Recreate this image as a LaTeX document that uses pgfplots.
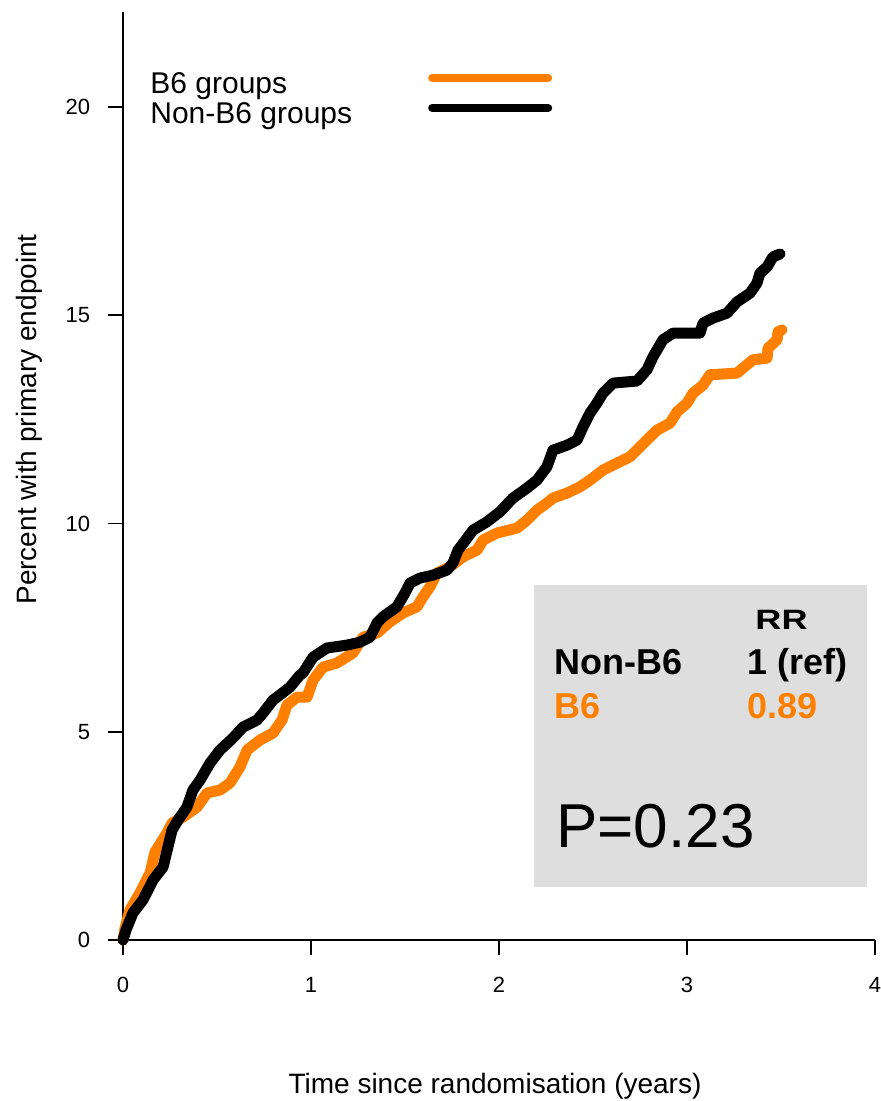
\documentclass[border=0pt]{standalone}
\usepackage{fontspec}
\setmainfont{Liberation Sans}
\usepackage{pgfplots}
\pgfplotsset{compat=1.18}
\definecolor{korange}{RGB}{255,128,0}
\definecolor{boxgray}{RGB}{222,222,222}
\begin{document}
\begin{tikzpicture}
\useasboundingbox (0,0) rectangle (440pt,550.5pt);
\begin{axis}[
  at={(61.5pt,80.5pt)}, anchor=south west,
  scale only axis, width=376pt, height=464pt,
  xmin=0, xmax=4, ymin=0, ymax=22.28,
  axis lines=left, axis line style={-, line width=0.8pt},
  xtick={0,1,2,3,4}, ytick={0,5,10,15,20},
  tick align=outside, major tick length=7.5pt,
  tick style={line width=0.8pt, black},
  /pgf/number format/assume math mode=true,
  ticklabel style={font=\fontsize{11}{13}\selectfont},
  xticklabel style={anchor=north, inner sep=0pt, yshift=-11pt},
  yticklabel style={anchor=east, inner sep=0pt, xshift=-8.75pt},
  label style={font=\fontsize{14}{17}\selectfont},
  xlabel={Time since randomisation (years)},
  ylabel={Percent with primary endpoint},
  xlabel style={at={(axis description cs:0.4947,-0.1649)}, anchor=base},
  ylabel style={at={(axis description cs:-0.11436,0.561)}, anchor=base},
  clip=false,
  legend plot pos=right,
  legend cell align=left,
  legend style={at={(axis description cs:0.0359,0.9368)}, anchor=north west,
    draw=none, fill=none, inner sep=0pt, row sep=0pt, column sep=38pt,
    font=\fontsize{15}{18}\selectfont,
    nodes={inner sep=0pt, text height=11pt, text depth=4pt}},
  legend image code/.code={\draw[#1, line width=4pt, line cap=round] (0pt,4.1pt) -- (58pt,4.1pt);},
]
\fill[boxgray] (axis cs:2.186,1.273) rectangle (axis cs:3.957,8.523);
\node[anchor=base west, inner sep=0pt] at (axis cs:3.362,7.443)
  {\bfseries\fontsize{14}{16}\selectfont\scalebox{1.29}[1]{RR}};
\node[anchor=base west, inner sep=0pt, font=\bfseries\fontsize{18}{20}\selectfont] at (axis cs:2.293,6.363) {Non-B6};
\node[anchor=base west, inner sep=0pt, font=\bfseries\fontsize{18}{20}\selectfont] at (axis cs:3.319,6.363) {1 (ref)};
\node[anchor=base west, inner sep=0pt, font=\bfseries\fontsize{18}{20}\selectfont, text=korange] at (axis cs:2.293,5.306) {B6};
\node[anchor=base west, inner sep=0pt, font=\bfseries\fontsize{18}{20}\selectfont, text=korange] at (axis cs:3.319,5.306) {0.89};
\node[anchor=base west, inner sep=0pt, font=\fontsize{31}{36}\selectfont] at (axis cs:2.303,2.209) {P=0.23};

\addplot[korange, line width=5.5pt, line join=round, line cap=round] coordinates {
(0,0) (0.011,0.29) (0.037,0.72) (0.090,1.13) (0.144,1.61) (0.170,2.11)
(0.234,2.57) (0.261,2.81) (0.319,2.95) (0.394,3.19) (0.447,3.53) (0.516,3.60)
(0.569,3.77) (0.622,4.15) (0.660,4.56) (0.729,4.80) (0.798,4.97) (0.846,5.28)
(0.872,5.64) (0.926,5.83) (0.979,5.83) (1.011,6.24) (1.064,6.55) (1.138,6.65)
(1.223,6.89) (1.277,7.27) (1.351,7.37) (1.420,7.64) (1.489,7.85) (1.564,8.00)
(1.596,8.24) (1.633,8.48) (1.670,8.81) (1.739,8.96) (1.809,9.20) (1.883,9.36)
(1.915,9.60) (1.989,9.77) (2.096,9.89) (2.149,10.08) (2.202,10.32) (2.255,10.49)
(2.287,10.61) (2.362,10.73) (2.431,10.88) (2.484,11.04) (2.553,11.28) (2.628,11.45)
(2.697,11.60) (2.750,11.84) (2.840,12.24) (2.910,12.41) (2.947,12.68) (3.000,12.89)
(3.032,13.13) (3.085,13.32) (3.122,13.57) (3.266,13.61) (3.319,13.81) (3.351,13.93)
(3.426,13.97) (3.431,14.21) (3.479,14.41) (3.484,14.60) (3.505,14.65)
};
\addlegendentry{B6 groups}
\addplot[black, line width=5.5pt, line join=round, line cap=round] coordinates {
(0,0) (0.016,0.24) (0.053,0.65) (0.106,0.96) (0.160,1.44) (0.213,1.75)
(0.239,2.23) (0.261,2.64) (0.293,2.88) (0.340,3.19) (0.372,3.60) (0.410,3.84)
(0.463,4.25) (0.516,4.56) (0.585,4.85) (0.638,5.11) (0.713,5.28) (0.745,5.45)
(0.798,5.76) (0.819,5.83) (0.888,6.07) (0.941,6.36) (0.957,6.41) (1.011,6.79)
(1.085,7.01) (1.191,7.08) (1.261,7.15) (1.314,7.27) (1.351,7.61) (1.383,7.76)
(1.457,8.00) (1.500,8.33) (1.527,8.57) (1.580,8.69) (1.649,8.76) (1.723,8.88)
(1.755,9.05) (1.782,9.36) (1.819,9.58) (1.862,9.84) (1.936,10.04) (2.005,10.28)
(2.074,10.61) (2.149,10.85) (2.202,11.04) (2.255,11.36) (2.287,11.76) (2.362,11.88)
(2.415,12.00) (2.447,12.32) (2.484,12.65) (2.521,12.89) (2.553,13.13) (2.606,13.37)
(2.734,13.42) (2.787,13.69) (2.819,14.00) (2.872,14.41) (2.926,14.57) (3.069,14.57)
(3.085,14.81) (3.138,14.93) (3.213,15.05) (3.266,15.32) (3.335,15.53) (3.372,15.77)
(3.388,16.01) (3.426,16.16) (3.457,16.40) (3.495,16.47)
};
\addlegendentry{Non-B6 groups}
\end{axis}
\end{tikzpicture}
\end{document}
